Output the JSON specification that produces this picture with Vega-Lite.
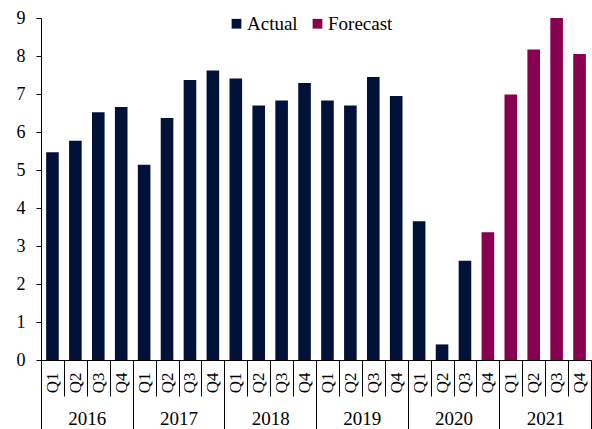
{
  "$schema": "https://vega.github.io/schema/vega-lite/v6.json",
  "width": 550,
  "height": 342,
  "autosize": {"type": "none"},
  "padding": {"left": 41, "top": 18, "right": 1, "bottom": 69},
  "background": "white",
  "config": {
    "view": {"stroke": null},
    "font": "Liberation Serif",
    "axis": {"labelFont": "Liberation Serif", "labelColor": "black", "domainColor": "black", "tickColor": "black", "grid": false, "domainWidth": 1, "tickWidth": 1}
  },
  "data": {
    "values": [
      {"year": "2016", "period": "2016 Q1", "value": 5.47, "type": "Actual"},
      {"year": "2016", "period": "2016 Q2", "value": 5.77, "type": "Actual"},
      {"year": "2016", "period": "2016 Q3", "value": 6.52, "type": "Actual"},
      {"year": "2016", "period": "2016 Q4", "value": 6.66, "type": "Actual"},
      {"year": "2017", "period": "2017 Q1", "value": 5.14, "type": "Actual"},
      {"year": "2017", "period": "2017 Q2", "value": 6.37, "type": "Actual"},
      {"year": "2017", "period": "2017 Q3", "value": 7.37, "type": "Actual"},
      {"year": "2017", "period": "2017 Q4", "value": 7.62, "type": "Actual"},
      {"year": "2018", "period": "2018 Q1", "value": 7.41, "type": "Actual"},
      {"year": "2018", "period": "2018 Q2", "value": 6.70, "type": "Actual"},
      {"year": "2018", "period": "2018 Q3", "value": 6.83, "type": "Actual"},
      {"year": "2018", "period": "2018 Q4", "value": 7.29, "type": "Actual"},
      {"year": "2019", "period": "2019 Q1", "value": 6.83, "type": "Actual"},
      {"year": "2019", "period": "2019 Q2", "value": 6.70, "type": "Actual"},
      {"year": "2019", "period": "2019 Q3", "value": 7.45, "type": "Actual"},
      {"year": "2019", "period": "2019 Q4", "value": 6.95, "type": "Actual"},
      {"year": "2020", "period": "2020 Q1", "value": 3.65, "type": "Actual"},
      {"year": "2020", "period": "2020 Q2", "value": 0.41, "type": "Actual"},
      {"year": "2020", "period": "2020 Q3", "value": 2.61, "type": "Actual"},
      {"year": "2020", "period": "2020 Q4", "value": 3.36, "type": "Forecast"},
      {"year": "2021", "period": "2021 Q1", "value": 6.99, "type": "Forecast"},
      {"year": "2021", "period": "2021 Q2", "value": 8.17, "type": "Forecast"},
      {"year": "2021", "period": "2021 Q3", "value": 9.0, "type": "Forecast"},
      {"year": "2021", "period": "2021 Q4", "value": 8.05, "type": "Forecast"}
    ]
  },
  "layer": [
    {
      "mark": {"type": "bar", "width": 12.6},
      "encoding": {
        "x": {
          "field": "period", "type": "ordinal",
          "scale": {"type": "band", "paddingInner": 0, "paddingOuter": 0},
          "axis": {"orient": "bottom", "title": null, "labelExpr": "isString(datum.value) ? substring(datum.value, 5) : ''", "labelAngle": -90, "labelFontSize": 17, "tickBand": "extent", "tickSize": 36, "labelPadding": -24, "labelOverlap": false, "labelFlush": false, "labelBound": false}
        },
        "y": {
          "field": "value", "type": "quantitative",
          "scale": {"domain": [0, 9], "nice": false},
          "axis": {"title": null, "values": [0, 1, 2, 3, 4, 5, 6, 7, 8, 9], "tickSize": 5, "labelPadding": 11, "labelFontSize": 18, "grid": false}
        },
        "color": {
          "field": "type", "type": "nominal",
          "scale": {"domain": ["Actual", "Forecast"], "range": ["#011137", "#880050"]},
          "legend": {"title": null, "orient": "none", "legendX": 186, "legendY": -4, "direction": "horizontal", "symbolType": "square", "symbolSize": 95, "symbolStrokeWidth": 0, "labelFontSize": 19, "labelFont": "Liberation Serif", "labelColor": "black", "columnPadding": 10, "padding": 0, "labelOffset": 1}
        }
      }
    },
    {
      "mark": {"type": "text", "opacity": 0},
      "encoding": {
        "x": {
          "field": "year", "type": "ordinal",
          "scale": {"type": "band", "paddingInner": 0, "paddingOuter": 0},
          "axis": {"orient": "bottom", "title": null, "domain": false, "tickBand": "extent", "tickSize": 69, "labelPadding": -20, "labelAngle": 0, "labelFontSize": 19, "labelOverlap": false, "labelFlush": false, "labelBound": false}
        },
        "text": {"value": ""}
      }
    }
  ],
  "resolve": {"scale": {"x": "independent"}, "axis": {"x": "independent"}}
}
